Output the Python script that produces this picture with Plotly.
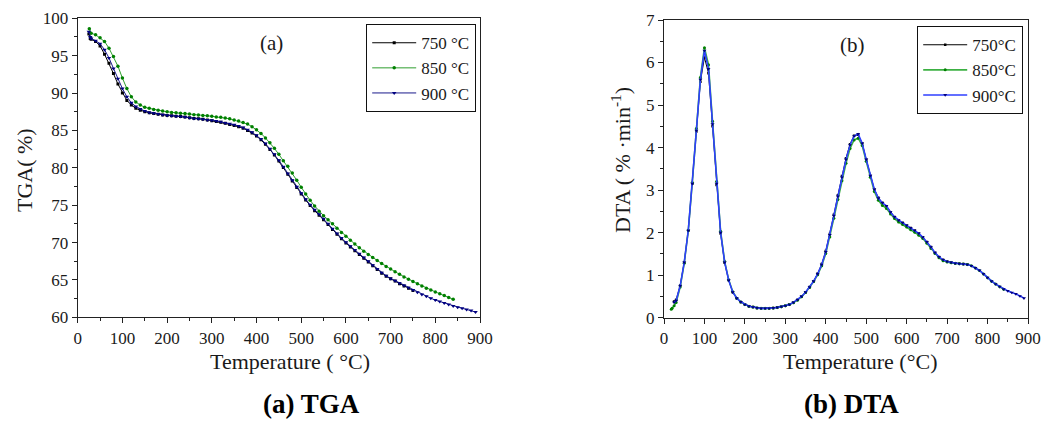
import plotly.graph_objects as go

# ---------------- data ----------------
T_GRID = [30, 40, 50, 60, 70, 80, 90, 100, 110, 120,
          130, 140, 150, 160, 170, 180, 190, 200, 210, 220,
          230, 240, 250, 260, 270, 280, 290, 300, 310, 320,
          330, 340, 350, 360, 370, 380, 390, 400, 410, 420,
          430, 440, 450, 460, 470, 480, 490, 500, 510, 520,
          530, 540, 550, 560, 570, 580, 590, 600, 610, 620,
          630, 640, 650, 660, 670, 680, 690, 700, 710, 720,
          730, 740, 750, 760, 770, 780, 790, 800, 810, 820,
          830, 840, 850, 860, 870, 880, 890]

series_names_a = ["750 °C", "850 °C", "900 °C"]
series_names_b = ["750°C", "850°C", "900°C"]

# TGA (%)
tga_T_750 = [25, 28] + T_GRID[:73]
tga_750 = [97.9, 97.3,
           97.2, 96.9, 96.3, 95.2, 94.0, 92.6, 91.2, 90.0, 89.0, 88.4,
           87.95, 87.7, 87.5, 87.35, 87.25, 87.15, 87.05, 87.0, 86.95, 86.9,
           86.85, 86.8, 86.7, 86.6, 86.55, 86.5, 86.4, 86.3, 86.2, 86.1,
           85.95, 85.8, 85.65, 85.5, 85.3, 85.0, 84.65, 84.25, 83.75, 83.15,
           82.45, 81.7, 80.9, 80.05, 79.15, 78.25, 77.35, 76.5, 75.7, 74.95,
           74.25, 73.65, 73.05, 72.4, 71.75, 71.1, 70.5, 69.95, 69.4, 68.9,
           68.4, 67.9, 67.4, 66.9, 66.4, 65.9, 65.5, 65.15, 64.85, 64.5,
           64.2, 63.9, 63.6]

tga_T_850 = [26] + T_GRID[:82]
tga_850 = [98.6,
           98.0, 97.8, 97.4, 96.9, 96.0, 94.9, 93.6, 92.0, 90.6, 89.5,
           88.8, 88.4, 88.1, 87.95, 87.8, 87.7, 87.6, 87.5, 87.4, 87.35,
           87.3, 87.25, 87.2, 87.1, 87.05, 87.0, 86.95, 86.9, 86.8, 86.75,
           86.65, 86.55, 86.4, 86.25, 86.05, 85.85, 85.5, 85.1, 84.6, 84.0,
           83.35, 82.6, 81.8, 80.95, 80.2, 79.3, 78.35, 77.4, 76.5, 75.65,
           74.9, 74.2, 73.6, 73.05, 72.5, 71.9, 71.35, 70.85, 70.3, 69.8,
           69.3, 68.85, 68.4, 68.0, 67.6, 67.2, 66.8, 66.45, 66.1, 65.75,
           65.4, 65.1, 64.8, 64.5, 64.2, 63.9, 63.65, 63.4, 63.15, 62.9,
           62.65, 62.4]

tga_T_900 = [25, 28] + T_GRID[:87]
tga_900 = [98.2, 97.5,
           97.3, 97.0, 96.6, 95.8, 94.7, 93.3, 91.9, 90.6, 89.5, 88.7,
           88.2, 87.85, 87.6, 87.4, 87.3, 87.2, 87.1, 87.0, 86.95, 86.9,
           86.85, 86.8, 86.7, 86.6, 86.55, 86.5, 86.4, 86.35, 86.25, 86.15,
           86.0, 85.9, 85.75, 85.6, 85.4, 85.1, 84.75, 84.35, 83.85, 83.25,
           82.55, 81.8, 81.0, 80.15, 79.25, 78.35, 77.45, 76.6, 75.8, 75.05,
           74.4, 73.8, 73.2, 72.5, 71.85, 71.2, 70.6, 70.05, 69.5, 69.0,
           68.5, 68.0, 67.5, 66.95, 66.45, 65.95, 65.55, 65.2, 64.9, 64.55,
           64.25, 63.95, 63.65, 63.35, 63.05, 62.8, 62.55, 62.3, 62.1, 61.9,
           61.7, 61.5, 61.35, 61.2, 61.05, 60.9, 60.7]

# DTA (%/min)
dta_T_750 = [25] + T_GRID[:73]
dta_750 = [0.38,
           0.42, 0.76, 1.30, 2.05, 3.15, 4.38, 5.55, 6.12, 5.75, 4.50,
           3.12, 1.98, 1.29, 0.88, 0.60, 0.46, 0.37, 0.31, 0.27, 0.25,
           0.23, 0.22, 0.22, 0.22, 0.23, 0.24, 0.26, 0.28, 0.31, 0.36,
           0.42, 0.50, 0.60, 0.72, 0.86, 1.04, 1.26, 1.57, 1.97, 2.42,
           2.88, 3.33, 3.75, 4.08, 4.28, 4.30, 4.10, 3.72, 3.34, 3.02,
           2.82, 2.70, 2.62, 2.48, 2.37, 2.29, 2.23, 2.17, 2.11, 2.05,
           1.98, 1.89, 1.78, 1.66, 1.53, 1.43, 1.36, 1.32, 1.30, 1.28,
           1.27, 1.26, 1.25]

dta_T_850 = [18, 20, 25] + T_GRID[:82]
dta_850 = [0.20, 0.22, 0.28,
           0.36, 0.72, 1.28, 2.05, 3.18, 4.45, 5.65, 6.35, 5.95, 4.62,
           3.20, 2.03, 1.32, 0.89, 0.61, 0.46, 0.37, 0.31, 0.27, 0.25,
           0.23, 0.22, 0.22, 0.22, 0.23, 0.24, 0.26, 0.28, 0.31, 0.35,
           0.41, 0.49, 0.59, 0.71, 0.85, 1.01, 1.22, 1.51, 1.90, 2.34,
           2.78, 3.22, 3.63, 3.98, 4.18, 4.22, 4.05, 3.68, 3.30, 2.97,
           2.76, 2.64, 2.57, 2.44, 2.33, 2.25, 2.19, 2.13, 2.07, 2.01,
           1.94, 1.86, 1.75, 1.63, 1.51, 1.41, 1.34, 1.31, 1.29, 1.28,
           1.27, 1.26, 1.25, 1.22, 1.17, 1.11, 1.03, 0.94, 0.86, 0.79,
           0.73, 0.67]

dta_T_900 = [25] + T_GRID[:87]
dta_900 = [0.36,
           0.40, 0.75, 1.30, 2.05, 3.15, 4.40, 5.60, 6.28, 5.85, 4.55,
           3.15, 2.00, 1.30, 0.88, 0.60, 0.46, 0.37, 0.31, 0.27, 0.25,
           0.23, 0.22, 0.22, 0.22, 0.23, 0.24, 0.26, 0.28, 0.31, 0.36,
           0.42, 0.50, 0.60, 0.72, 0.86, 1.03, 1.25, 1.55, 1.95, 2.40,
           2.85, 3.30, 3.72, 4.06, 4.27, 4.32, 4.10, 3.72, 3.34, 3.02,
           2.81, 2.70, 2.63, 2.48, 2.37, 2.29, 2.23, 2.17, 2.11, 2.05,
           1.98, 1.89, 1.78, 1.66, 1.53, 1.43, 1.36, 1.32, 1.30, 1.28,
           1.27, 1.26, 1.25, 1.22, 1.17, 1.11, 1.03, 0.94, 0.86, 0.79,
           0.73, 0.67, 0.63, 0.59, 0.56, 0.51, 0.46]

# ---------------- styles ----------------
FONT = "Liberation Serif"
TXT = "#1a1a1a"
AX = "#222222"
styles_a = [
    dict(line=dict(color="#000000", width=1), marker=dict(symbol="square", size=3, color="#000000")),
    dict(line=dict(color="#2e9e2e", width=1), marker=dict(symbol="circle", size=3.5, color="#008000")),
    dict(line=dict(color="#1a1a8c", width=1), marker=dict(symbol="triangle-down", size=4, color="#000080")),
]
styles_b = [
    dict(line=dict(color="#000000", width=1), marker=dict(symbol="square", size=2.5, color="#000000")),
    dict(line=dict(color="#3cb043", width=1.6), marker=dict(symbol="circle", size=3, color="#008000")),
    dict(line=dict(color="#2f3fff", width=1.6), marker=dict(symbol="triangle-down", size=3.5, color="#000080")),
]

fig = go.Figure()

tga_sets = [(tga_T_750, tga_750), (tga_T_850, tga_850), (tga_T_900, tga_900)]
for (xs, ys), name, st in zip(tga_sets, series_names_a, styles_a):
    fig.add_trace(go.Scatter(x=xs, y=ys, name=name, mode="lines+markers",
                             xaxis="x", yaxis="y", legend="legend", **st))

dta_sets = [(dta_T_750, dta_750), (dta_T_850, dta_850), (dta_T_900, dta_900)]
for (xs, ys), name, st in zip(dta_sets, series_names_b, styles_b):
    fig.add_trace(go.Scatter(x=xs, y=ys, name=name, mode="lines+markers",
                             xaxis="x2", yaxis="y2", legend="legend2", **st))

W, H = 1047, 431


def px_x(p):
    return p / W


def px_y(p):
    return 1 - p / H


axis_common = dict(showline=True, mirror=True, linecolor=AX, linewidth=1.2,
                   showgrid=False, zeroline=False, ticks="outside", ticklen=5,
                   tickwidth=1, tickcolor=AX,
                   tickfont=dict(family=FONT, size=17, color=TXT), automargin=False)

fig.update_layout(
    width=W, height=H,
    margin=dict(l=0, r=0, t=0, b=0, pad=0),
    paper_bgcolor="white", plot_bgcolor="white",
    font=dict(family=FONT, color=TXT),
    xaxis=dict(domain=[px_x(77.7), px_x(480)], range=[0, 900], dtick=100, tick0=0,
               anchor="y", minor=dict(dtick=50, ticks="outside", ticklen=3, tickcolor=AX),
               **axis_common),
    yaxis=dict(domain=[px_y(317.3), px_y(18.3)], range=[60, 100], dtick=5, tick0=60,
               anchor="x", minor=dict(dtick=2.5, ticks="outside", ticklen=3, tickcolor=AX),
               **axis_common),
    xaxis2=dict(domain=[px_x(664), px_x(1028)], range=[0, 900], dtick=100, tick0=0,
                anchor="y2", minor=dict(dtick=50, ticks="outside", ticklen=3, tickcolor=AX),
                **axis_common),
    yaxis2=dict(domain=[px_y(317.7), px_y(20)], range=[0, 7], dtick=1, tick0=0,
                anchor="x2", minor=dict(dtick=0.5, ticks="outside", ticklen=3, tickcolor=AX),
                **axis_common),
    legend=dict(x=px_x(366), y=px_y(24), xanchor="left", yanchor="top",
                bordercolor="#111", borderwidth=1.2, bgcolor="white", itemwidth=44,
                font=dict(family=FONT, size=17, color=TXT), tracegroupgap=0),
    legend2=dict(x=px_x(917), y=px_y(26), xanchor="left", yanchor="top",
                 bordercolor="#111", borderwidth=1.2, bgcolor="white", itemwidth=44,
                 font=dict(family=FONT, size=17, color=TXT), tracegroupgap=0),
    showlegend=True,
)

ann = [
    dict(text="(a)", x=px_x(271), y=px_y(43), size=21, bold=False),
    dict(text="(b)", x=px_x(852), y=px_y(45), size=21, bold=False),
    dict(text="Temperature ( °C)", x=px_x(290), y=px_y(361), size=22, bold=False),
    dict(text="Temperature (°C)", x=px_x(860), y=px_y(361), size=22, bold=False),
    dict(text="<b>(a) TGA</b>", x=px_x(311), y=px_y(404), size=27, bold=True),
    dict(text="<b>(b) DTA</b>", x=px_x(851), y=px_y(404), size=27, bold=True),
]
for a in ann:
    fig.add_annotation(text=a["text"], x=a["x"], y=a["y"], xref="paper", yref="paper",
                       xanchor="center", yanchor="middle", showarrow=False,
                       font=dict(family=FONT, size=a["size"], color="#000" if a["bold"] else TXT))

fig.add_annotation(text="TGA( %)", x=px_x(24), y=px_y(170), xref="paper", yref="paper",
                   textangle=-90, xanchor="center", yanchor="middle", showarrow=False,
                   font=dict(family=FONT, size=22, color=TXT))
fig.add_annotation(text="DTA ( % ·min<sup>-1</sup>)", x=px_x(621), y=px_y(160), xref="paper", yref="paper",
                   textangle=-90, xanchor="center", yanchor="middle", showarrow=False,
                   font=dict(family=FONT, size=22, color=TXT))

fig.write_html("out.html")
